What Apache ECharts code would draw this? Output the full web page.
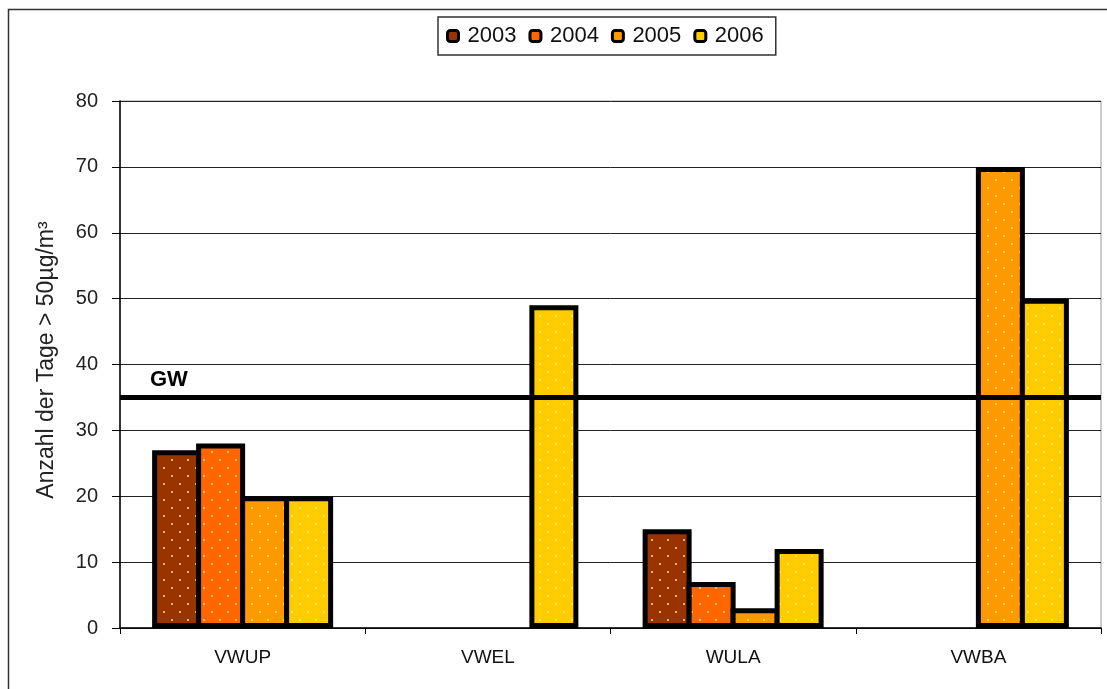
<!DOCTYPE html>
<html>
<head>
<meta charset="utf-8">
<script src="https://cdn.jsdelivr.net/npm/echarts@6/dist/echarts.min.js"></script>
<style>
html,body{margin:0;padding:0;background:#fff;}
#chart{width:1107px;height:689px;}
</style>
</head>
<body>
<div id="chart"></div>
<script>
const categories = ['VWUP', 'VWEL', 'WULA', 'VWBA'];
const seriesNames = ['2003', '2004', '2005', '2006'];
const values2003 = [27, null, 15, null];
const values2004 = [28, null, 7, null];
const values2005 = [20, null, 3, 70];
const values2006 = [20, 49, 12, 50];
const limitValue = 35;
const limitLabel = 'GW';
const yTicks = { min: 0, max: 80, interval: 10 };
const yAxisName = 'Anzahl der Tage > 50µg/m³';

const colors = ['#993300', '#FF6600', '#FF9900', '#FFCC00'];

function pattern(color) {
  const c = document.createElement('canvas');
  c.width = 16; c.height = 16;
  const ctx = c.getContext('2d');
  ctx.fillStyle = color;
  ctx.fillRect(0, 0, 16, 16);
  ctx.fillStyle = 'rgba(255,235,170,0.95)';
  ctx.beginPath(); ctx.arc(4, 4, 1, 0, Math.PI * 2); ctx.fill();
  ctx.beginPath(); ctx.arc(12, 12, 1, 0, Math.PI * 2); ctx.fill();
  return c;
}

const allValues = [values2003, values2004, values2005, values2006];
const font = 'Liberation Sans, Arial, sans-serif';

const series = seriesNames.map((name, i) => {
  const s = {
    name: name,
    type: 'bar',
    data: allValues[i],
    barWidth: 49,
    barGap: '-10.2%',
    itemStyle: {
      color: { image: pattern(colors[i]), repeat: 'repeat' },
      borderColor: '#000',
      borderWidth: 5
    },
    emphasis: { disabled: true },
    animation: false
  };
  if (i === 3) {
    s.markLine = {
      silent: true,
      symbol: 'none',
      data: [{ yAxis: limitValue }],
      lineStyle: { color: '#000', width: 5, type: 'solid' },
      label: {
        show: true,
        position: 'insideStartTop',
        formatter: limitLabel,
        color: '#000',
        fontWeight: 'bold',
        fontSize: 22,
        fontFamily: font,
        distance: [30, 7]
      },
      animation: false
    };
  }
  return s;
});

const chart = echarts.init(document.getElementById('chart'), null, { renderer: 'canvas' });
chart.setOption({
  backgroundColor: '#fff',
  animation: false,
  legend: {
    data: seriesNames.map((n, i) => ({
      name: n,
      itemStyle: { color: colors[i], borderColor: '#000', borderWidth: 3 }
    })),
    top: 17,
    left: 438,
    padding: [8, 12, 8, 8],
    itemWidth: 11,
    itemHeight: 11,
    itemGap: 12,
    borderColor: '#333',
    borderWidth: 1.5,
    textStyle: { fontSize: 22, fontFamily: font, color: '#111', padding: [0, 0, 0, 4] },
    selectedMode: false
  },
  grid: {
    left: 120,
    right: 6,
    top: 101,
    bottom: 61,
    show: true,
    borderColor: '#999',
    borderWidth: 1
  },
  xAxis: {
    type: 'category',
    data: categories,
    axisLine: { lineStyle: { color: '#000', width: 1.5 } },
    axisTick: { show: true, length: 6, lineStyle: { color: '#000' } },
    axisLabel: { fontSize: 19, fontFamily: font, color: '#111', margin: 20 }
  },
  yAxis: {
    type: 'value',
    min: yTicks.min,
    max: yTicks.max,
    interval: yTicks.interval,
    axisLine: { show: true, lineStyle: { color: '#000', width: 1.5 } },
    axisTick: { show: true, length: 8, lineStyle: { color: '#000' } },
    axisLabel: { fontSize: 20, fontFamily: font, color: '#222', margin: 22 },
    splitLine: { lineStyle: { color: '#222', width: 1 } }
  },
  graphic: [
    {
      type: 'rect',
      silent: true,
      shape: { x: 8.5, y: 9.5, width: 1200, height: 800 },
      style: { fill: 'none', stroke: '#333', lineWidth: 1.5 },
      z: -1
    },
    {
      type: 'text',
      silent: true,
      x: 47,
      y: 360,
      rotation: Math.PI / 2,
      style: {
        text: yAxisName,
        fontSize: 23,
        fontFamily: font,
        fill: '#222',
        textAlign: 'center',
        textVerticalAlign: 'middle'
      }
    }
  ],
  series: series
});
</script>
</body>
</html>
